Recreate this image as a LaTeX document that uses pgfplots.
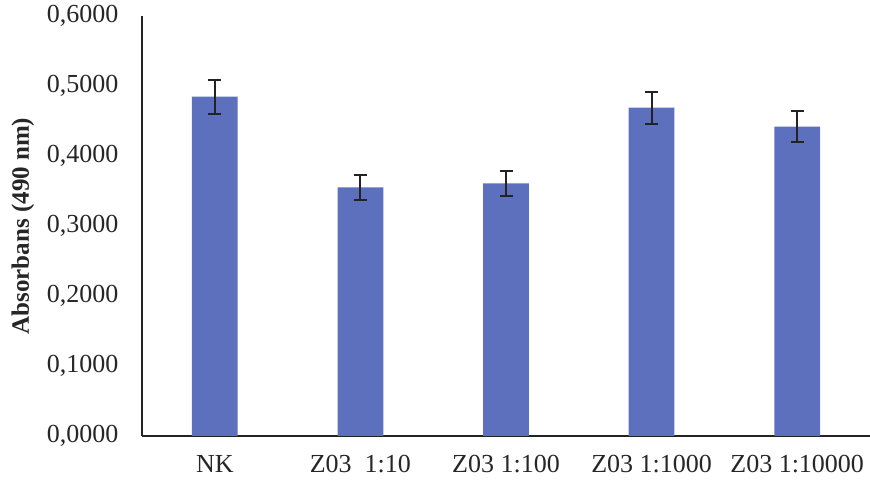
\documentclass[border=0pt]{standalone}
\usepackage{fontspec}
\setmainfont{Liberation Serif}
\usepackage{pgfplots}
\pgfplotsset{compat=1.18}
\definecolor{barblue}{RGB}{92,112,190}
\definecolor{axisgray}{RGB}{35,35,35}
\begin{document}
\begin{tikzpicture}
\begin{axis}[
  scale only axis,
  width=728pt, height=420pt,
  xmin=-0.5, xmax=4.5,
  ymin=0, ymax=0.6,
  ytick={0,0.1,0.2,0.3,0.4,0.5,0.6},
  xtick={0,1,2,3,4},
  xticklabels={NK, Z03\ \ 1:10, Z03 1:100, Z03 1:1000, Z03 1:10000},
  axis x line*=bottom, axis y line*=left,
  axis line style={axisgray, line width=2.6pt},
  major tick length=0pt,
  tick style={draw=none},
  /pgf/number format/assume math mode=true,
  /pgf/number format/fixed, /pgf/number format/fixed zerofill,
  /pgf/number format/precision=4, /pgf/number format/use comma,
  ticklabel style={font=\fontsize{26}{30}\selectfont, text=black!85},
  yticklabel style={xshift=-20pt},
  xticklabel style={yshift=-16pt},
  ylabel={\textbf{Absorbans (490 nm)}},
  ylabel style={font=\fontsize{25}{29}\selectfont, text=black!85},
  ylabel shift=6pt,
  clip=false,
]
\addplot[ybar, bar width=0.314, fill=barblue, draw=none,
  error bars/.cd, y dir=both, y explicit,
  error bar style={line width=2pt, color=axisgray},
  error mark options={line width=2pt, mark size=6.5pt, color=axisgray, rotate=90}]
  coordinates {
  (0,0.4847) +- (0,0.0243)
  (1,0.3553) +- (0,0.0176)
  (2,0.3610) +- (0,0.0180)
  (3,0.4690) +- (0,0.0230)
  (4,0.4420) +- (0,0.0220)
  };
\end{axis}
\pgfresetboundingbox
\path (-142pt,-53pt) rectangle (728pt,436pt);
\end{tikzpicture}
\end{document}
